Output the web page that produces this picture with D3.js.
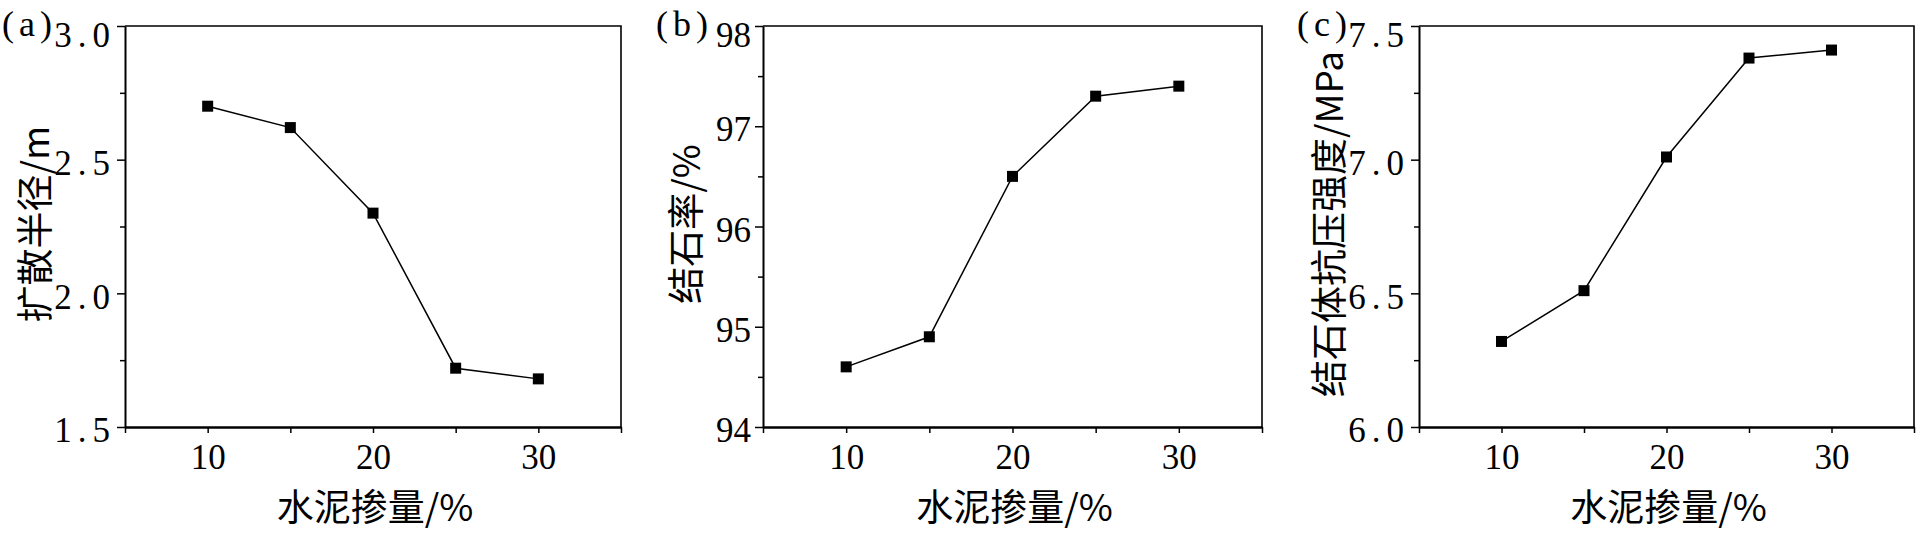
<!DOCTYPE html>
<html>
<head>
<meta charset="utf-8">
<script src="https://cdn.jsdelivr.net/npm/d3@7"></script>
<style>
  html, body { margin: 0; padding: 0; background: #fff; }
  svg { display: block; }
</style>
</head>
<body>
<svg id="chart" width="1930" height="537"></svg>
<script>
// ---- data ----
const cementContent = [10, 15, 20, 25, 30];
const diffusionRadius = [2.70, 2.62, 2.30, 1.72, 1.68];
const stoneRate = [94.6, 94.9, 96.5, 97.3, 97.4];
const compressiveStrength = [6.32, 6.51, 7.01, 7.38, 7.41];

const xTickValues = [5, 10, 15, 20, 25, 30, 35];
const xTickLabels = [10, 20, 30];
const yTicksA = [1.5, 2.0, 2.5, 3.0];
const yMinorA = [1.75, 2.25, 2.75];
const yTicksB = [94, 95, 96, 97, 98];
const yMinorB = [94.5, 95.5, 96.5, 97.5];
const yTicksC = [6.0, 6.5, 7.0, 7.5];
const yMinorC = [6.25, 6.75, 7.25];

const panelTags = ["(a)", "(b)", "(c)"];
const yTitles = ["扩散半径/m", "结石率/%", "结石体抗压强度/MPa"];
const xTitle = "水泥掺量/%";

// ---- layout / style ----
const panels = [
  { tag: panelTags[0], ytitle: yTitles[0], values: diffusionRadius, ydom: [1.5, 3.0], ymaj: yTicksA, ymin: yMinorA, fmt: d3.format(".1f"),
    left: 125, right: 621, tagX: 2, yTitleX: 33 },
  { tag: panelTags[1], ytitle: yTitles[1], values: stoneRate, ydom: [94, 98], ymaj: yTicksB, ymin: yMinorB, fmt: d3.format("d"),
    left: 763, right: 1262, tagX: 656, yTitleX: 684 },
  { tag: panelTags[2], ytitle: yTitles[2], values: compressiveStrength, ydom: [6.0, 7.5], ymaj: yTicksC, ymin: yMinorC, fmt: d3.format(".1f"),
    left: 1419, right: 1914, tagX: 1297, yTitleX: 1327 }
];
const plotTop = 26, plotBottom = 427;
const serif = "'Liberation Serif', 'DejaVu Serif', serif";
const cjk = "'Noto Sans CJK SC', 'Noto Sans', sans-serif";

const svg = d3.select("#chart");

panels.forEach(p => {
  const x = d3.scaleLinear().domain([5, 35]).range([p.left, p.right]);
  const y = d3.scaleLinear().domain(p.ydom).range([plotBottom, plotTop]);
  const g = svg.append("g");

  // frame (top & right)
  g.append("path")
    .attr("d", `M${p.left},${plotTop}H${p.right}V${plotBottom}`)
    .attr("fill", "none").attr("stroke", "#000").attr("stroke-width", 1.6);

  // x axis
  const xAxis = d3.axisBottom(x).tickValues(xTickValues).tickSize(6).tickSizeOuter(0)
    .tickFormat(d => xTickLabels.includes(d) ? d : "");
  const gx = g.append("g").attr("transform", `translate(0,${plotBottom})`).call(xAxis);
  gx.select(".domain").attr("stroke-width", 2.5);
  gx.selectAll(".tick line").attr("stroke-width", 1.5);
  gx.selectAll(".tick text")
    .attr("font-family", serif).attr("font-size", 35).attr("fill", "#000")
    .attr("y", 17).attr("dy", "0.71em");

  // y axis major
  const yAxis = d3.axisLeft(y).tickValues(p.ymaj).tickSize(8).tickSizeOuter(0).tickFormat(p.fmt);
  const gy = g.append("g").attr("transform", `translate(${p.left},0)`).call(yAxis);
  gy.select(".domain").attr("stroke-width", 2);
  gy.selectAll(".tick line").attr("stroke-width", 1.5);
  gy.selectAll(".tick text")
    .attr("font-family", serif).attr("font-size", 35).attr("fill", "#000")
    .attr("letter-spacing", d => p.fmt(d).includes(".") ? "6px" : null)
    .attr("x", d => p.fmt(d).includes(".") ? -9 : -12).attr("dy", "0.42em")
    .attr("transform", (d, i) => i === p.ymaj.length - 1 ? "translate(0,6)" : null);

  // y axis minor
  const yMinor = d3.axisLeft(y).tickValues(p.ymin).tickSize(5).tickSizeOuter(0).tickFormat("");
  const gym = g.append("g").attr("transform", `translate(${p.left},0)`).call(yMinor);
  gym.select(".domain").remove();
  gym.selectAll(".tick line").attr("stroke-width", 1.5);

  // line
  const pts = cementContent.map((c, i) => [c, p.values[i]]);
  g.append("path")
    .datum(pts)
    .attr("fill", "none").attr("stroke", "#000").attr("stroke-width", 1.5)
    .attr("d", d3.line().x(d => x(d[0])).y(d => y(d[1])));

  // markers
  g.selectAll("rect.m").data(pts).enter().append("rect")
    .attr("class", "m")
    .attr("x", d => x(d[0]) - 5.5).attr("y", d => y(d[1]) - 5.5)
    .attr("width", 11).attr("height", 11).attr("fill", "#000");

  // x title
  g.append("text")
    .attr("x", (p.left + p.right) / 2 + 2).attr("y", 521)
    .attr("text-anchor", "middle")
    .attr("font-family", cjk).attr("font-size", 37).attr("fill", "#000")
    .text(xTitle);

  // y title
  g.append("text")
    .attr("transform", `translate(${p.yTitleX},224) rotate(-90)`)
    .attr("text-anchor", "middle").attr("dominant-baseline", "central")
    .attr("font-family", cjk).attr("font-size", 37).attr("fill", "#000")
    .text(p.ytitle);

  // panel tag
  g.append("text")
    .attr("x", p.tagX).attr("y", 36)
    .attr("font-family", serif).attr("font-size", 36).attr("fill", "#000")
    .attr("letter-spacing", "5px")
    .text(p.tag);
});
</script>
</body>
</html>
